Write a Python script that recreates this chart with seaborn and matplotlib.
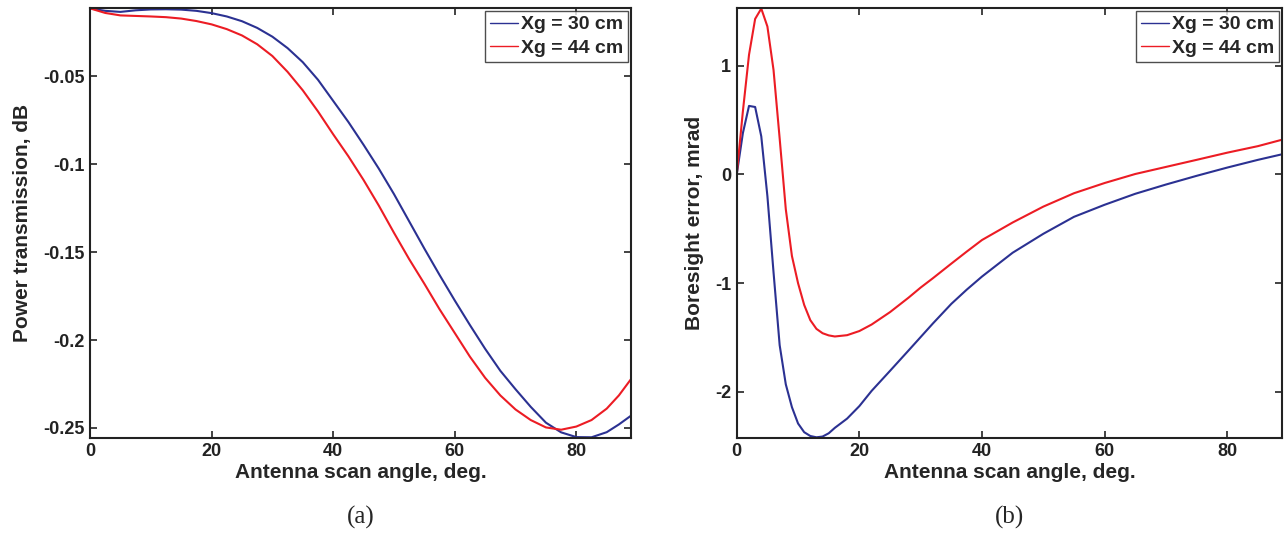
import matplotlib
matplotlib.use("Agg")
import matplotlib.pyplot as plt
import seaborn as sns
import pandas as pd
import numpy as np

# (a) power transmission vs scan angle
angle_a = [0, 2.5, 5, 7.5, 10, 12.5, 15, 17.5, 20, 22.5, 25, 27.5, 30, 32.5, 35, 37.5, 40, 42.5, 45,
           47.5, 50, 52.5, 55, 57.5, 60, 62.5, 65, 67.5, 70, 72.5, 75, 77.5, 80, 82.5, 85, 87, 89]
power_30 = [-0.0114, -0.0128, -0.0134, -0.0125, -0.0120, -0.0119, -0.0121, -0.0128, -0.0141, -0.0160,
            -0.0187, -0.0225, -0.0275, -0.0340, -0.0420, -0.0520, -0.0640, -0.0760, -0.0890,
            -0.1025, -0.1170, -0.1325, -0.1480, -0.1630, -0.1775, -0.1915, -0.2050, -0.2175,
            -0.2280, -0.2380, -0.2470, -0.2525, -0.2552, -0.2553, -0.2524, -0.2480, -0.2430]
power_44 = [-0.0114, -0.0140, -0.0154, -0.0157, -0.0160, -0.0164, -0.0172, -0.0186, -0.0205, -0.0232,
            -0.0268, -0.0318, -0.0385, -0.0475, -0.0580, -0.0700, -0.0830, -0.0955, -0.1090,
            -0.1235, -0.1390, -0.1540, -0.1680, -0.1825, -0.1960, -0.2095, -0.2215, -0.2315,
            -0.2395, -0.2455, -0.2497, -0.2510, -0.2492, -0.2455, -0.2390, -0.2315, -0.2222]

# (b) boresight error vs scan angle
angle_b = [0, 1, 2, 3, 4, 5, 6, 7, 8, 9, 10, 11, 12, 13, 14, 15, 16, 18, 20, 22, 25, 28, 30, 32, 35,
           37.5, 40, 45, 50, 55, 60, 65, 70, 75, 80, 85, 89]
error_30 = [0, 0.38, 0.63, 0.62, 0.35, -0.20, -0.90, -1.57, -1.93, -2.14, -2.29, -2.37, -2.405, -2.417,
            -2.41, -2.38, -2.33, -2.245, -2.13, -1.99, -1.806, -1.62, -1.495, -1.37, -1.19,
            -1.06, -0.939, -0.72, -0.546, -0.39, -0.279, -0.178, -0.093, -0.013, 0.063, 0.134, 0.186]
error_44 = [0, 0.58, 1.10, 1.43, 1.525, 1.36, 0.96, 0.33, -0.32, -0.75, -1.00, -1.20, -1.34, -1.42,
            -1.46, -1.48, -1.49, -1.478, -1.44, -1.38, -1.266, -1.134, -1.04, -0.954, -0.82,
            -0.71, -0.603, -0.442, -0.296, -0.173, -0.079, 0.004, 0.069, 0.134, 0.200, 0.260, 0.320]

series_labels = ["Xg = 30 cm", "Xg = 44 cm"]
colors = {"Xg = 30 cm": "#2b3192", "Xg = 44 cm": "#ec1c24"}

df_a = pd.concat([
    pd.DataFrame({"angle": angle_a, "value": power_30, "series": series_labels[0]}),
    pd.DataFrame({"angle": angle_a, "value": power_44, "series": series_labels[1]}),
])
df_b = pd.concat([
    pd.DataFrame({"angle": angle_b, "value": error_30, "series": series_labels[0]}),
    pd.DataFrame({"angle": angle_b, "value": error_44, "series": series_labels[1]}),
])

sns.set_style("ticks")
plt.rcParams["font.family"] = ["Liberation Sans", "DejaVu Sans"]
plt.rcParams["font.weight"] = "bold"

fig = plt.figure(figsize=(12.86, 5.35), dpi=100)
ax_a = fig.add_axes([0.070, 0.182, 0.4207, 0.803])
ax_b = fig.add_axes([0.5729, 0.182, 0.4243, 0.803])

panels = [
    (ax_a, df_a, (-0.2555, -0.0112), [-0.25, -0.2, -0.15, -0.1, -0.05],
     ["-0.25", "-0.2", "-0.15", "-0.1", "-0.05"], "Power transmission, dB", "(a)"),
    (ax_b, df_b, (-2.42, 1.53), [-2, -1, 0, 1], ["-2", "-1", "0", "1"],
     "Boresight error, mrad", "(b)"),
]

for ax, df, ylim, yt, ytl, ylab, cap in panels:
    sns.lineplot(data=df, x="angle", y="value", hue="series", palette=colors,
                 linewidth=1.5, ax=ax, sort=False, estimator=None)
    ax.set_xlim(0, 89)
    ax.set_ylim(*ylim)
    ax.set_xticks([0, 20, 40, 60, 80])
    ax.set_yticks(yt)
    ax.set_yticklabels(ytl)
    ax.tick_params(direction="in", length=5, width=1.2, top=True, right=True,
                   labelsize=13, pad=4, colors="#222222")
    for lab in ax.get_xticklabels() + ax.get_yticklabels():
        lab.set_fontweight("bold")
    for sp in ax.spines.values():
        sp.set_linewidth(1.5)
        sp.set_color("#222222")
        sp.set_visible(True)
    ax.set_xlabel("Antenna scan angle, deg.", fontsize=15, fontweight="bold", labelpad=2)
    ax.set_ylabel(ylab, fontsize=15, fontweight="bold", labelpad=8)
    leg = ax.legend(loc="upper right", fontsize=14, frameon=True, fancybox=False,
                    borderaxespad=0.15, handlelength=1.45, handletextpad=0.15,
                    borderpad=0.25, labelspacing=0.3)
    leg.get_frame().set_edgecolor("#222222")
    leg.get_frame().set_linewidth(1.0)
    for t in leg.get_texts():
        t.set_fontweight("bold")
    for line in leg.get_lines():
        line.set_linewidth(1.0)
    bb = ax.get_position()
    fig.text((bb.x0 + bb.x1) / 2, 0.032, cap, ha="center", va="center", fontsize=18,
             family=["Liberation Serif", "DejaVu Serif"], fontweight="normal")

fig.savefig("out.png", dpi=100)
